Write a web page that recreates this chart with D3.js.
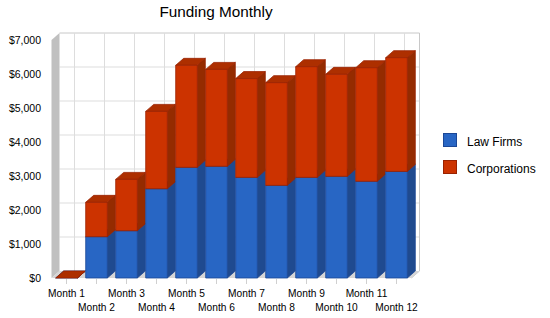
<!DOCTYPE html>
<html lang="en">
<head>
<meta charset="UTF-8">
<title>Funding Monthly</title>
<script src="https://d3js.org/d3.v7.min.js"></script>
<style>
  body { margin: 0; background: #fff; }
  text { font-family: "Liberation Sans", Arial, sans-serif; fill: #000; }
</style>
</head>
<body>
<svg id="chart" width="550" height="318"></svg>
<script>
// data
var months = ["Month 1","Month 2","Month 3","Month 4","Month 5","Month 6",
              "Month 7","Month 8","Month 9","Month 10","Month 11","Month 12"];
var lawFirms     = [0, 1215, 1390, 2625, 3255, 3285, 2960, 2725, 2960, 2990, 2845, 3135];
var corporations = [0, 1010, 1510, 2275, 3000, 2850, 2905, 3020, 3255, 3000, 3340, 3345];
var seriesNames  = ["Law Firms", "Corporations"];
var yTicks = [0, 1000, 2000, 3000, 4000, 5000, 6000, 7000];

var svg = d3.select("#chart");
var pLeft = 51.5, pRight = 411.5, pBottom = 278, pTop = 40;
var dx = 8, dy = -7;   // 3d depth

var x = d3.scaleBand().domain(months).range([pLeft, pRight])
    .paddingInner(0.28).paddingOuter(0.14);
var y = d3.scaleLinear().domain([0, 7000]).range([pBottom, pTop]);

var colors = {
  "Law Firms":    {front: "#2866c4", side: "#1f4a8f", top: "#2356a8", stroke: "#1b4796"},
  "Corporations": {front: "#cc3300", side: "#942b00", top: "#ad2f00", stroke: "#992200"}
};

// title
svg.append("text").attr("x", 216).attr("y", 17).attr("text-anchor", "middle")
  .style("font-size", "15.3px").text("Funding Monthly");

// back wall
svg.append("rect").attr("x", pLeft + dx).attr("y", pTop + dy)
  .attr("width", pRight - pLeft).attr("height", pBottom - pTop)
  .attr("fill", "#fff");

// horizontal grid on back wall
svg.append("g").selectAll("line").data(yTicks.slice(1)).enter().append("line")
  .attr("x1", pLeft + dx).attr("x2", pRight + dx)
  .attr("y1", function(d) { return y(d) + dy; })
  .attr("y2", function(d) { return y(d) + dy; })
  .attr("stroke", function(d) { return d == 7000 ? "#c8c8c8" : "#dddddd"; })
  .attr("stroke-width", 1);

// vertical grid on back wall
svg.append("g").selectAll("line").data(months).enter().append("line")
  .attr("x1", function(d) { return x(d) + x.bandwidth() / 2 + dx; })
  .attr("x2", function(d) { return x(d) + x.bandwidth() / 2 + dx; })
  .attr("y1", pTop + dy).attr("y2", pBottom + dy)
  .attr("stroke", "#dddddd");

// right edge of back wall
svg.append("path")
  .attr("d", "M" + (pRight + dx) + "," + (pTop + dy) + "L" + (pRight + dx) + "," + (pBottom + dy) + "L" + pRight + "," + pBottom)
  .attr("fill", "none").attr("stroke", "#c8c8c8");

// left side wall
svg.append("path")
  .attr("d", "M" + pLeft + "," + pBottom + "L" + pLeft + "," + pTop + "L" + (pLeft + dx) + "," + (pTop + dy) +
             "L" + (pLeft + dx) + "," + (pBottom + dy) + "Z")
  .attr("fill", "#c0c0c0");

// floor
svg.append("path")
  .attr("d", "M" + pLeft + "," + pBottom + "L" + pRight + "," + pBottom + "L" + (pRight + dx) + "," + (pBottom + dy) +
             "L" + (pLeft + dx) + "," + (pBottom + dy) + "Z")
  .attr("fill", "#d6d6d6");

// x ticks
svg.append("g").selectAll("line").data(months).enter().append("line")
  .attr("x1", function(d) { return x(d) + x.bandwidth() / 2; })
  .attr("x2", function(d) { return x(d) + x.bandwidth() / 2; })
  .attr("y1", pBottom + 1).attr("y2", pBottom + 6)
  .attr("stroke", "#d0d0d0");

// stacked 3d bars
var stackData = months.map(function(m, i) {
  return {month: m, "Law Firms": lawFirms[i], "Corporations": corporations[i]};
});
var stacked = d3.stack().keys(seriesNames)(stackData);

var bars = svg.append("g");
months.forEach(function(m, i) {
  var x0 = x(m), w = x.bandwidth();
  stacked.forEach(function(s) {
    var c = colors[s.key];
    var y0 = y(s[i][0]), y1 = y(s[i][1]);
    var g = bars.append("g").attr("stroke", c.stroke).attr("stroke-width", 0.8).attr("stroke-linejoin", "round");
    // side
    g.append("path")
      .attr("d", "M" + (x0 + w) + "," + y0 + "L" + (x0 + w) + "," + y1 + "L" + (x0 + w + dx) + "," + (y1 + dy) +
                 "L" + (x0 + w + dx) + "," + (y0 + dy) + "Z")
      .attr("fill", c.side);
    // top
    g.append("path")
      .attr("d", "M" + x0 + "," + y1 + "L" + (x0 + w) + "," + y1 + "L" + (x0 + w + dx) + "," + (y1 + dy) +
                 "L" + (x0 + dx) + "," + (y1 + dy) + "Z")
      .attr("fill", c.top);
    // front
    if (y0 - y1 > 0) {
      g.append("rect").attr("x", x0).attr("y", y1).attr("width", w).attr("height", y0 - y1)
        .attr("fill", c.front);
    }
  });
});

// y axis labels
svg.append("g").selectAll("text").data(yTicks).enter().append("text")
  .attr("x", 41).attr("y", function(d) { return y(d); }).attr("dy", "0.35em")
  .attr("text-anchor", "end").style("font-size", "10.5px")
  .text(function(d) { return d3.format("$,")(d); });

// x axis labels, staggered
svg.append("g").selectAll("text").data(months).enter().append("text")
  .attr("x", function(d) { return x(d) + x.bandwidth() / 2; })
  .attr("y", function(d, i) { return i % 2 == 0 ? 297 : 310.5; })
  .attr("text-anchor", "middle").style("font-size", "10.2px")
  .text(function(d) { return d; });

// legend
var legend = svg.append("g").selectAll("g").data(seriesNames).enter().append("g")
  .attr("transform", function(d, i) { return "translate(443," + (133 + i * 27) + ")"; });
legend.append("rect").attr("x", 0.5).attr("y", 0.5).attr("width", 13).attr("height", 13)
  .attr("fill", function(d) { return colors[d].front; })
  .attr("stroke", function(d) { return colors[d].stroke; });
legend.append("text").attr("x", 24).attr("y", 13).style("font-size", "12px")
  .text(function(d) { return d; });
</script>
</body>
</html>
